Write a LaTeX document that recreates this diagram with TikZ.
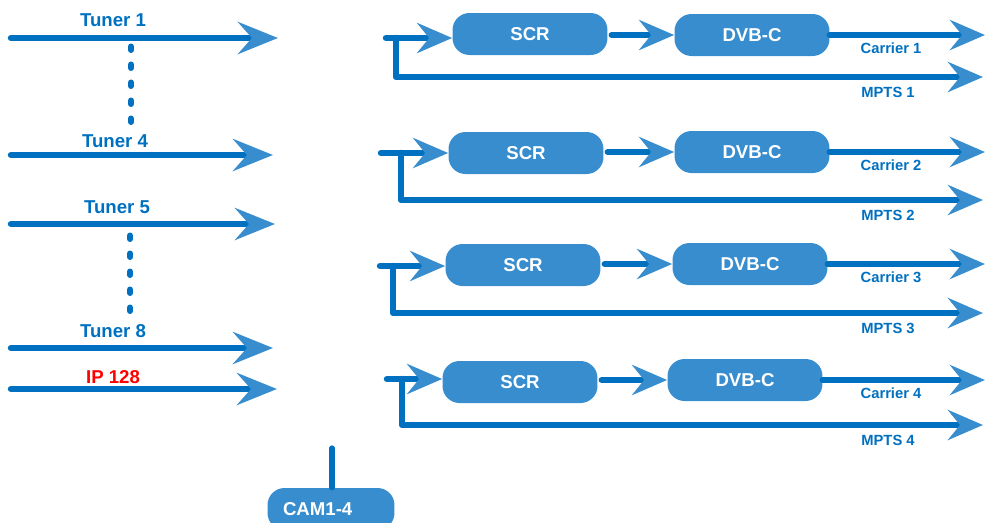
\documentclass[tikz,border=0pt]{standalone}
\usepackage{fontspec}
\setmainfont{Liberation Sans}
\usetikzlibrary{arrows.meta,positioning}
\definecolor{lineblue}{RGB}{0,112,192}
\definecolor{boxblue}{RGB}{56,141,206}
\definecolor{labred}{RGB}{255,0,0}

\begin{document}
\begin{tikzpicture}[x=0.02cm,y=-0.02cm]
\tikzstyle{flow}=[draw=lineblue, line width=3.7pt, line cap=round, line join=round]
\tikzstyle{bigtip}=[-{Stealth[length=0.8cm,width=0.64cm,inset=0.28cm,color=boxblue]}]
\tikzstyle{smalltip}=[-{Stealth[length=0.7cm,width=0.6cm,inset=0.24cm,color=boxblue]}]
\tikzstyle{dotline}=[draw=lineblue, line width=3.4pt, line cap=round, dash pattern=on 0.07cm off 0.29cm]
\tikzstyle{box}=[rectangle, rounded corners=0.34cm, fill=boxblue, text=white, inner sep=0pt, minimum width=3.1cm, minimum height=0.84cm, font=\fontsize{10.6}{12}\selectfont\bfseries]
\tikzstyle{biglab}=[text=lineblue, font=\fontsize{10.6}{12}\selectfont\bfseries]
\tikzstyle{smalllab}=[text=lineblue, font=\fontsize{8.4}{10}\selectfont\bfseries]
\useasboundingbox (0,0) rectangle (985,522);

% inputs
\coordinate (t1a) at (11,38);  \coordinate (t1b) at (278,38);
\coordinate (t4a) at (11,155); \coordinate (t4b) at (273,155);
\coordinate (t5a) at (11,224); \coordinate (t5b) at (275,224);
\coordinate (t8a) at (11,348); \coordinate (t8b) at (273,348);
\coordinate (ipa) at (11,389); \coordinate (ipb) at (277,389);
\draw[flow,bigtip] (t1a) -- (t1b);
\draw[flow,bigtip] (t4a) -- (t4b);
\draw[flow,bigtip] (t5a) -- (t5b);
\draw[flow,bigtip] (t8a) -- (t8b);
\draw[flow,bigtip] (ipa) -- (ipb);
\node[biglab] (tun1) at (113,20) {Tuner 1};
\node[biglab] (tun4) at (115,141) {Tuner 4};
\node[biglab] (tun5) at (117,207) {Tuner 5};
\node[biglab] (tun8) at (113,331) {Tuner 8};
\node[biglab,text=labred] (ip) at (113,377) {IP 128};
\coordinate (d1a) at (131,46.5); \coordinate (d1b) at (131,122);
\coordinate (d2a) at (130,235.5); \coordinate (d2b) at (130,311);
\draw[dotline] (d1a) -- (d1b);
\draw[dotline] (d2a) -- (d2b);

% outputs
\foreach \i/\iy/\ix/\bx/\sx/\sy/\dx/\dy/\my in {
  1/38/386/396/530/34/752/35/77,
  2/153/381/401/526/153/752/152/200,
  3/266/380/393/523/265/750/264/313,
  4/379/387/402/520/382/745/380/425}{
  \node[box] (scr\i) at (\sx,\sy) {SCR};
  \node[box] (dvb\i) at (\dx,\dy) {DVB-C};
  \coordinate (in\i) at (\ix,\iy);
  \coordinate (br\i) at (\bx,\iy);
  \coordinate (car\i) at (985,\dy);
  \coordinate (mp\i) at (983,\my);
  \draw[flow,smalltip] (in\i) -- (in\i -| scr\i.west);
  \draw[flow,smalltip] (br\i) |- (mp\i);
  \draw[flow,smalltip,shorten <=0.08cm] (scr\i.east |- dvb\i) -- (dvb\i.west);
  \draw[flow,smalltip] (dvb\i.east) -- (car\i);
  \node[smalllab] (carlab\i) at (891,\dy+13) {Carrier \i};
  \node[smalllab] (mplab\i) at (888,\my+15) {MPTS \i};
}

% CAM
\node[box, minimum width=2.54cm, text width=1.92cm, align=left, inner xsep=0.3cm] (cam) at (331,509) {CAM1-4};
\coordinate (camtop) at (332,448);
\draw[flow,line width=3pt] (camtop) -- (camtop |- cam.north);
\end{tikzpicture}
\end{document}
